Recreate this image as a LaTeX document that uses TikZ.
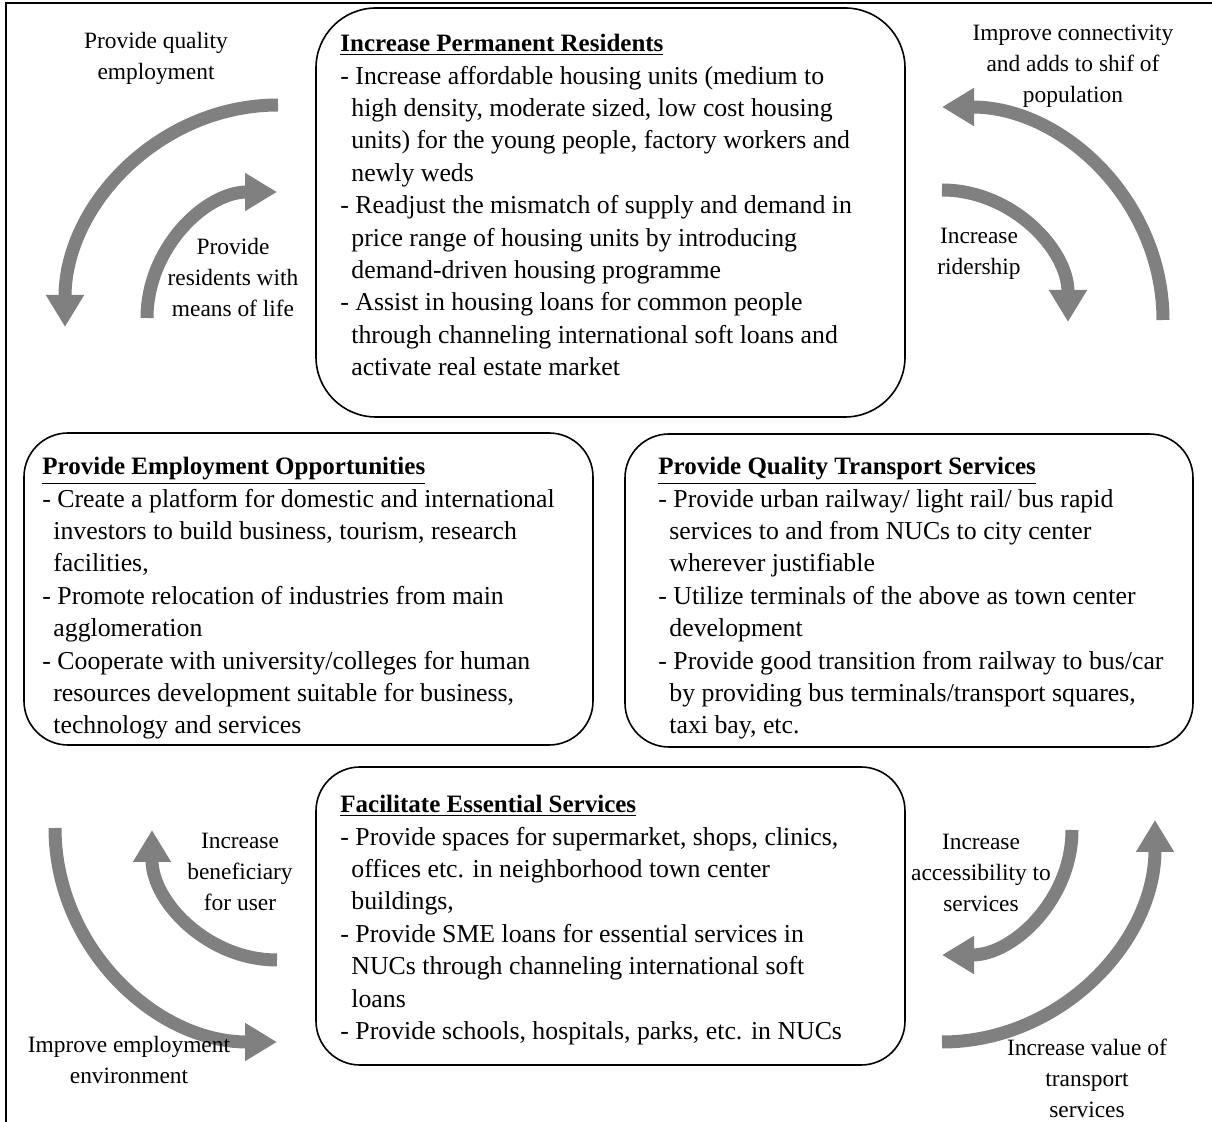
\documentclass[tikz,border=0pt]{standalone}
\usepackage{fontspec}
\setmainfont{Liberation Serif}
\usetikzlibrary{arrows.meta}

\definecolor{flowgray}{RGB}{128,128,128}
\newcommand{\hd}[1]{{\fontsize{12.5}{16.2}\selectfont\underline{\textbf{#1}}}}
\newcommand{\ct}{\hspace*{5.5pt}}

\tikzset{
  box/.style={draw, line width=0.8pt, inner sep=0pt},
  boxtext/.style={anchor=north west, align=left, inner sep=0pt,
    font=\fontsize{12.9}{16.2}\selectfont},
  lbl/.style={align=center, inner sep=0pt,
    font=\fontsize{11.7}{15.5}\selectfont},
  flow/.style={draw=flowgray, line width=6.5pt,
    -{Triangle[width=18pt,length=16pt]}, fill=none}
}

\begin{document}
\begin{tikzpicture}[x=0.5pt,y=0.5pt]
  \useasboundingbox (0,0) rectangle (1212,-1122);
  \draw[line width=1pt] (6,-1122) -- (6,-3) -- (1212,-3);

  % the four boxes
  \node[box, rounded corners=30pt, minimum width=294.5pt, minimum height=204.5pt]
    (resid) at (610.5,-212.5) {};
  \node[box, rounded corners=22pt, minimum width=284.5pt, minimum height=156pt]
    (employ) at (308.5,-589) {};
  \node[box, rounded corners=22pt, minimum width=284pt, minimum height=156.5pt]
    (transport) at (909,-590.5) {};
  \node[box, rounded corners=22pt, minimum width=294.5pt, minimum height=149pt]
    (services) at (610.5,-916) {};

  \node[boxtext] (resid text) at (340,-34) {\hd{Increase Permanent Residents}\\
    - Increase affordable housing units (medium to\\
    \ct high density, moderate sized, low cost housing\\
    \ct units) for the young people, factory workers and\\
    \ct newly weds\\
    - Readjust the mismatch of supply and demand in\\
    \ct price range of housing units by introducing\\
    \ct demand-driven housing programme\\
    - Assist in housing loans for common people\\
    \ct through channeling international soft loans and\\
    \ct activate real estate market};
  \node[boxtext] (employ text) at (42,-457) {\hd{Provide Employment Opportunities}\\
    - Create a platform for domestic and international\\
    \ct investors to build business, tourism, research\\
    \ct facilities,\\
    - Promote relocation of industries from main\\
    \ct agglomeration\\
    - Cooperate with university/colleges for human\\
    \ct resources development suitable for business,\\
    \ct technology and services};
  \node[boxtext] (transport text) at (658,-457) {\hd{Provide Quality Transport Services}\\
    - Provide urban railway/ light rail/ bus rapid\\
    \ct services to and from NUCs to city center\\
    \ct wherever justifiable\\
    - Utilize terminals of the above as town center\\
    \ct development\\
    - Provide good transition from railway to bus/car\\
    \ct by providing bus terminals/transport squares,\\
    \ct taxi bay, etc.};
  \node[boxtext] (services text) at (340,-795) {\hd{Facilitate Essential Services}\\
    - Provide spaces for supermarket, shops, clinics,\\
    \ct offices etc. in neighborhood town center\\
    \ct buildings,\\
    - Provide SME loans for essential services in\\
    \ct NUCs through channeling international soft\\
    \ct loans\\
    - Provide schools, hospitals, parks, etc. in NUCs};

  % curved arrows
  \coordinate (tl out) at (278,-105);
  \coordinate (tl in) at (147,-318);
  \coordinate (tr out) at (1163,-320);
  \coordinate (tr in) at (942,-190);
  \coordinate (bl out) at (55,-828);
  \coordinate (bl in) at (277,-960);
  \coordinate (br in) at (1072,-830);
  \coordinate (br out) at (942,-1042);
  \draw[flow] (tl out) arc[start angle=90, end angle=180, x radius=213, y radius=222];
  \draw[flow] (tl in) arc[start angle=180, end angle=90, x radius=130, y radius=126];
  \draw[flow] (tr out) arc[start angle=0, end angle=90, x radius=221, y radius=213];
  \draw[flow] (tr in) arc[start angle=90, end angle=0, x radius=126, y radius=132];
  \draw[flow] (bl out) arc[start angle=180, end angle=270, x radius=222, y radius=214];
  \draw[flow] (bl in) arc[start angle=270, end angle=180, x radius=125, y radius=130];
  \draw[flow] (br in) arc[start angle=0, end angle=-90, x radius=130, y radius=125];
  \draw[flow] (br out) arc[start angle=-90, end angle=0, x radius=213, y radius=222];

  % arrow labels
  \node[lbl] (l quality) at (156,-58) {Provide quality\\employment};
  \node[lbl] (l means) at (233,-278) {Provide\\residents with\\means of life};
  \node[lbl] (l connect) at (1073,-66) {Improve connectivity\\and adds to shif of\\population};
  \node[lbl] (l rider) at (979,-254) {Increase\\ridership};
  \node[lbl] (l benef) at (240,-872) {Increase\\beneficiary\\for user};
  \node[lbl] (l environ) at (129,-1060) {Improve employment\\environment};
  \node[lbl] (l access) at (981,-873) {Increase\\accessibility to\\services};
  \node[lbl] (l value) at (1087,-1078) {Increase value of\\transport\\services};
\end{tikzpicture}
\end{document}
